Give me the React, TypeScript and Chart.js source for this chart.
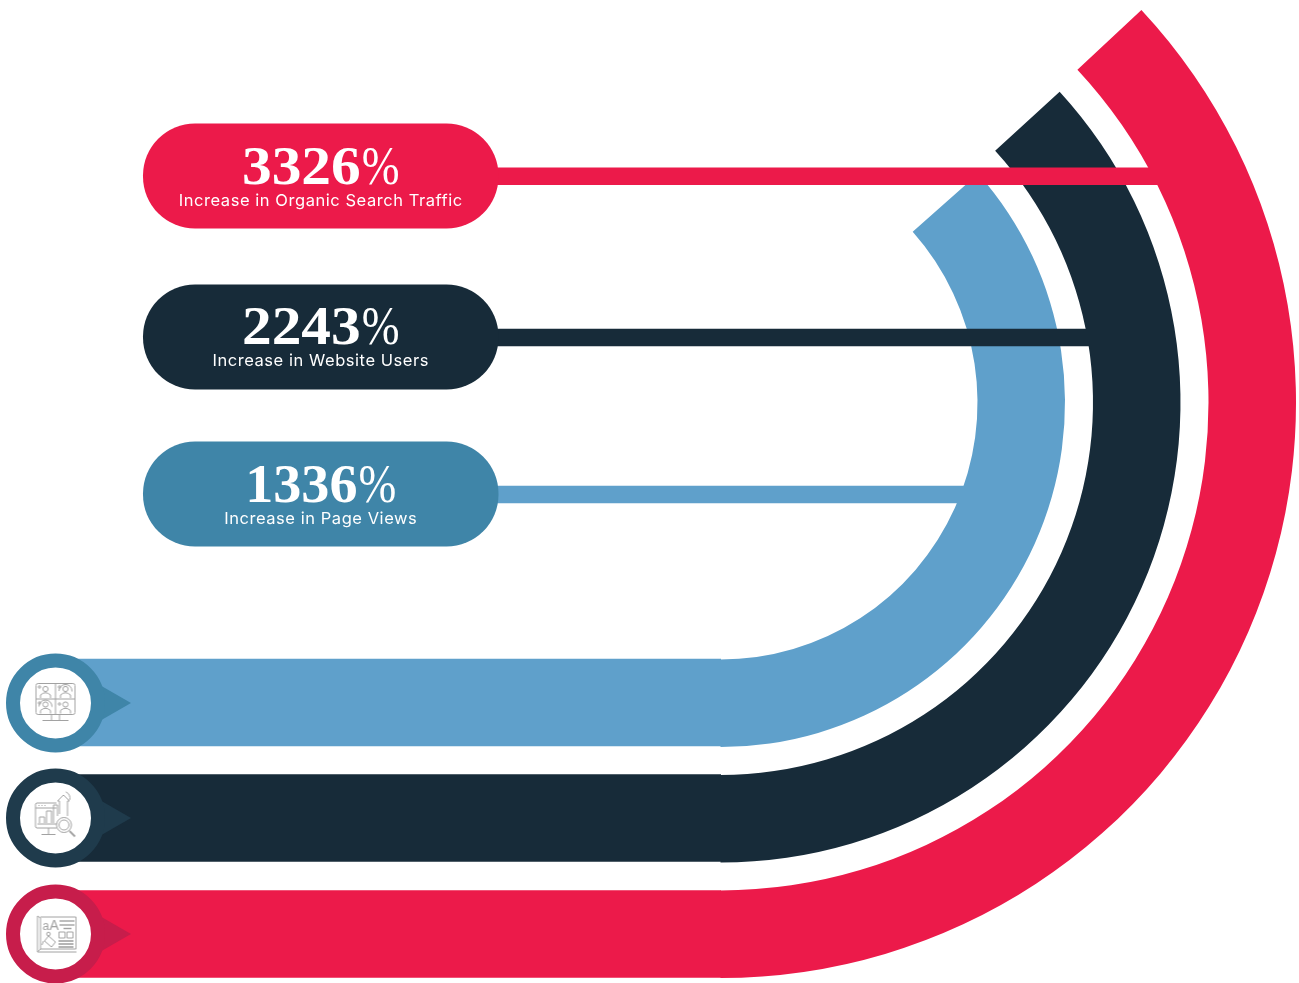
import React, { useEffect, useRef } from "react";
import { Chart, registerables } from "chart.js";

Chart.register(...registerables);

const metricNames = ["Increase in Organic Search Traffic", "Increase in Website Users", "Increase in Page Views"];
const metricValues = ["3326", "2243", "1336"];

// Curved part of each track, in degrees of sweep from the bottom of the circle.
const arcSweeps = [133, 132.5, 131.6];
const ringWeights = [87.5, 28, 87.5, 28, 87.5];

// Rows of the straight marks, on an axis that runs the height of the page.
const pillRows = [176, 337, 494];
const captionRows = [175.5, 335.5, 494];
const pillSpans = [[143, 498.5], [143, 498.5], [143, 498.5]];
const connectorRows = [176.3, 337.5, 494.5];
const connectorSpans = [[480, 1160], [480, 1090], [480, 967]];
const bandRows = [702.5, 818, 934];
const bandSpans = [[56, 721], [56, 721], [56, 721]];
const markerColumns = [55.5, 55.5, 55.5];
const markerRows = [703, 818, 934];
const arrowColumns = [109, 109, 109];

const RED = "#EC1A4A";
const NAVY = "#172B39";
const SKY = "#5FA0CB";
const pillColors = [RED, NAVY, "#3F85A8"];
const connectorColors = [RED, NAVY, SKY];
const bandColors = [SKY, NAVY, RED];
const ringColors = ["#3F85A8", "#1F3B4C", "#C71D4B"];

const INK = "#a2a2a2";

function line(c: CanvasRenderingContext2D, pts: number[]) {
  c.beginPath();
  c.moveTo(pts[0], pts[1]);
  for (let i = 2; i < pts.length; i += 2) c.lineTo(pts[i], pts[i + 1]);
  c.stroke();
}

function circle(c: CanvasRenderingContext2D, x: number, y: number, r: number) {
  c.beginPath();
  c.arc(x, y, r, 0, Math.PI * 2);
  c.stroke();
}

function person(c: CanvasRenderingContext2D, x: number, y: number) {
  circle(c, x, y, 2.6);
  c.beginPath();
  c.moveTo(x - 5, y + 9);
  c.lineTo(x - 5, y + 6);
  c.quadraticCurveTo(x, y + 1.5, x + 5, y + 6);
  c.lineTo(x + 5, y + 9);
  c.stroke();
}

function drawMeetingIcon(c: CanvasRenderingContext2D) {
  c.beginPath();
  c.roundRect(8.5, 8.5, 39, 31, 2);
  c.stroke();
  line(c, [28, 9, 28, 39]);
  line(c, [9, 24, 47, 24]);
  person(c, 18, 14);
  person(c, 38, 14);
  person(c, 18, 29.5);
  person(c, 38, 29.5);
  circle(c, 12, 12, 1.2);
  circle(c, 32, 12, 1.2);
  circle(c, 32, 29, 1.2);
  circle(c, 12, 28, 1.2);
  c.beginPath();
  c.arc(38, 16, 6.5, Math.PI, 0.1);
  c.stroke();
  c.beginPath();
  c.arc(18, 31.5, 6.5, Math.PI, 0.1);
  c.stroke();
  line(c, [24, 40, 24, 45]);
  line(c, [32, 40, 32, 45]);
  line(c, [15, 45.5, 41, 45.5]);
}

function drawAnalyticsIcon(c: CanvasRenderingContext2D) {
  line(c, [29, 13, 9, 13, 8, 14, 8, 37, 9, 38, 29, 38]);
  line(c, [8, 18, 29, 18]);
  line(c, [11, 15.5, 12, 15.5]);
  line(c, [14, 15.5, 15, 15.5]);
  line(c, [17, 15.5, 18, 15.5]);
  line(c, [12, 33, 12, 27, 17, 27, 17, 33]);
  line(c, [19, 33, 19, 21, 24, 21, 24, 33]);
  line(c, [26, 33, 26, 15, 30, 15, 30, 26]);
  line(c, [10, 34, 29, 34]);
  line(c, [32, 24, 32, 11, 30, 11, 36, 5, 42, 11, 40, 11, 40, 26]);
  c.beginPath();
  c.arc(36, 8, 6.5, -1.2, 0.3);
  c.stroke();
  circle(c, 36.5, 35, 7.5);
  circle(c, 36.5, 35, 5);
  c.lineWidth = 1.8;
  line(c, [42, 41, 47.5, 46.5]);
  c.lineWidth = 1;
  line(c, [21, 38, 21, 44]);
  line(c, [14, 44.5, 28, 44.5]);
}

function drawDesignIcon(c: CanvasRenderingContext2D) {
  line(c, [10, 46, 10, 10, 13, 12, 13, 43, 10, 46, 49, 46]);
  line(c, [13, 11, 48.5, 11, 48.5, 43, 13, 43]);
  c.fillStyle = INK;
  c.font = "12px 'Liberation Sans'";
  c.fillText("a", 15, 24);
  c.font = "14px 'Liberation Sans'";
  c.fillText("A", 22, 24);
  c.lineWidth = 1.4;
  line(c, [32, 15, 47, 15]);
  line(c, [32, 19, 47, 19]);
  line(c, [36, 22.5, 44, 22.5]);
  c.lineWidth = 1;
  c.strokeRect(31.5, 26, 6, 6);
  c.strokeRect(39.5, 26, 6, 6);
  c.lineWidth = 1.6;
  line(c, [31, 35, 46, 35]);
  line(c, [31, 38, 46, 38]);
  line(c, [31, 41, 46, 41]);
  c.lineWidth = 1;
  line(c, [17, 35, 21, 30, 28, 36, 24, 41, 17, 35]);
  circle(c, 21, 28, 1.8);
  line(c, [16, 35, 14.5, 39]);
}

function makeIcon(paint: (c: CanvasRenderingContext2D) => void) {
  const icon = document.createElement("canvas");
  icon.width = 56;
  icon.height = 56;
  const c = icon.getContext("2d")!;
  c.strokeStyle = INK;
  c.lineWidth = 1;
  c.lineJoin = "round";
  paint(c);
  return icon;
}

// Digits in this face are all one width, so the row holding a narrow 1 is squeezed.
const digitStretch = [1.1, 1.1, 1.04];

// Writes the figure and its caption inside every pill.
const pillText = {
  id: "pillText",
  afterDatasetsDraw(chart: Chart) {
    const { ctx, scales } = chart;
    captionRows.forEach((row, i) => {
      const cx = scales.x.getPixelForValue((pillSpans[i][0] + pillSpans[i][1]) / 2);
      const cy = scales.y.getPixelForValue(row);
      const digits = metricValues[i];
      const stretch = digitStretch[i];
      ctx.save();
      ctx.fillStyle = "#ffffff";
      ctx.textBaseline = "alphabetic";
      ctx.textAlign = "left";

      ctx.font = "bold 54px 'Liberation Serif'";
      const digitWidth = ctx.measureText(digits).width * stretch;
      ctx.font = "54px 'Liberation Serif'";
      const signWidth = ctx.measureText("%").width * 0.84;
      const gap = 1;
      const left = cx - (digitWidth + gap + signWidth) / 2;
      const base = cy + 8;

      ctx.save();
      ctx.translate(left, base);
      ctx.scale(stretch, 1);
      ctx.font = "bold 54px 'Liberation Serif'";
      ctx.fillText(digits, 0, 0);
      ctx.restore();

      ctx.save();
      ctx.translate(left + digitWidth + gap, base);
      ctx.scale(0.84, 1);
      ctx.font = "54px 'Liberation Serif'";
      ctx.fillText("%", 0, 0);
      ctx.restore();

      ctx.textAlign = "center";
      ctx.font = "16.5px Inter";
      (ctx as any).letterSpacing = "0.55px";
      ctx.fillText(metricNames[i], cx, cy + 30);
      ctx.restore();
    });
  },
};

export default function App() {
  const arcRef = useRef<HTMLCanvasElement>(null);
  const barRef = useRef<HTMLCanvasElement>(null);

  useEffect(() => {
    const ring = (color: string, sweep: number, weight: number) => ({
      data: [sweep, 360 - sweep],
      rotation: 180 - sweep,
      weight,
      backgroundColor: [color, "transparent"],
      borderWidth: 0,
    });
    const spacer = (weight: number) => ({
      data: [1],
      weight,
      backgroundColor: ["transparent"],
      borderWidth: 0,
    });

    const arcs = new Chart(arcRef.current!, {
      type: "doughnut",
      data: {
        labels: ["track", "rest"],
        datasets: [
          ring(RED, arcSweeps[0], ringWeights[0]),
          spacer(ringWeights[1]),
          ring(NAVY, arcSweeps[1], ringWeights[2]),
          spacer(ringWeights[3]),
          ring(SKY, arcSweeps[2], ringWeights[4]),
        ],
      },
      options: {
        responsive: false,
        animation: false,
        cutout: 257,
        layout: { padding: 0 },
        plugins: { legend: { display: false }, tooltip: { enabled: false } },
      },
    });

    const hbar = (spans: number[][], rows: number[], colors: string[], extra: object) => ({
      type: "bar",
      indexAxis: "y",
      grouped: false,
      borderSkipped: false,
      inflateAmount: 0,
      data: spans.map((span, i) => ({ x: span, y: rows[i] })),
      backgroundColor: colors,
      ...extra,
    });
    const points = (xs: number[], ys: number[], extra: object) => ({
      type: "scatter",
      clip: false,
      data: xs.map((x, i) => ({ x, y: ys[i] })),
      ...extra,
    });

    const icons = [makeIcon(drawMeetingIcon), makeIcon(drawAnalyticsIcon), makeIcon(drawDesignIcon)];

    // Earlier datasets paint on top of later ones.
    const bars = new Chart(barRef.current!, {
      type: "bar",
      data: {
        datasets: [
          points(markerColumns, markerRows, { pointStyle: icons, pointRadius: 28, pointBorderWidth: 0 }),
          points(markerColumns, markerRows, {
            pointStyle: "circle",
            pointRadius: 42.5,
            pointBorderWidth: 14,
            pointBackgroundColor: "#ffffff",
            pointBorderColor: ringColors,
          }),
          points(arrowColumns, markerRows, {
            pointStyle: "triangle",
            pointRotation: 90,
            pointRadius: 22,
            pointBorderWidth: 0,
            pointBackgroundColor: ringColors,
          }),
          hbar(pillSpans, pillRows, pillColors, { barThickness: 105, borderRadius: 52 }),
          hbar(connectorSpans, connectorRows, connectorColors, { barThickness: 17.5 }),
          hbar(bandSpans, bandRows, bandColors, { barThickness: 87.5 }),
        ] as any,
      },
      options: {
        responsive: false,
        animation: false,
        layout: { padding: 0, autoPadding: false },
        scales: {
          x: { type: "linear", min: 0, max: 1299, display: false, offset: false },
          y: { type: "linear", min: 0, max: 983, reverse: true, display: false, offset: false },
        },
        plugins: { legend: { display: false }, tooltip: { enabled: false } },
      },
      plugins: [pillText],
    });

    return () => {
      arcs.destroy();
      bars.destroy();
    };
  }, []);

  return (
    <div style={{ position: "absolute", left: 0, top: 0, width: 1299, height: 983, overflow: "hidden", background: "#ffffff" }}>
      <canvas ref={arcRef} width={1151} height={1151} style={{ position: "absolute", left: 145, top: -173, display: "block" }} />
      <canvas ref={barRef} width={1299} height={983} style={{ position: "absolute", left: 0, top: 0, display: "block" }} />
    </div>
  );
}
